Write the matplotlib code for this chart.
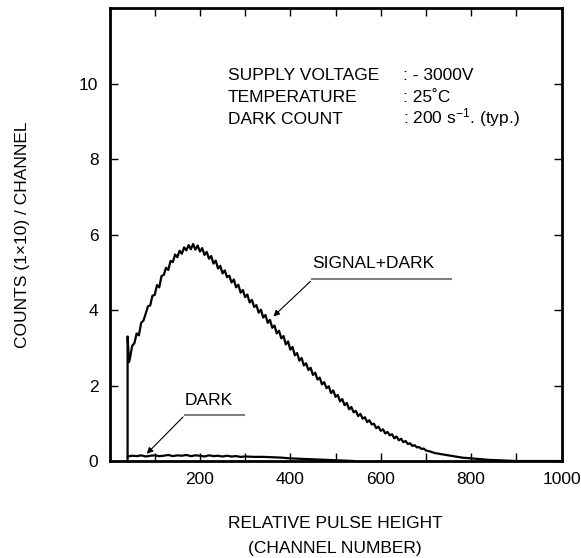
import matplotlib
matplotlib.use('Agg')
import matplotlib.pyplot as plt
from matplotlib.ticker import MultipleLocator

plt.rcParams['font.family'] = 'Liberation Sans'
plt.rcParams['font.size'] = 12.5
plt.rcParams['mathtext.fontset'] = 'custom'
plt.rcParams['mathtext.rm'] = 'Liberation Sans'

# signal + dark spectrum
sig_ch = [40, 40, 43, 45, 50, 55, 60, 65, 70, 75, 80, 85, 90, 95, 100, 105, 110,
          115, 120, 125, 130, 135, 140, 145, 150, 155, 160, 165, 170, 175, 180,
          185, 190, 195, 200, 205, 210, 215, 220, 225, 230, 235, 240, 245, 250,
          255, 260, 265, 270, 275, 280, 285, 290, 295, 300, 305, 310, 315, 320,
          325, 330, 335, 340, 345, 350, 355, 360, 365, 370, 375, 380, 385, 390,
          395, 400, 405, 410, 415, 420, 425, 430, 435, 440, 445, 450, 455, 460,
          465, 470, 475, 480, 485, 490, 495, 500, 505, 510, 515, 520, 525, 530,
          535, 540, 545, 550, 555, 560, 565, 570, 575, 580, 585, 590, 595, 600,
          605, 610, 615, 620, 625, 630, 635, 640, 645, 650, 655, 660, 665, 670,
          675, 680, 685, 690, 695, 700, 710, 720, 730, 740, 750, 760, 770, 780,
          790, 800, 820, 840, 860, 880, 900, 1000]
sig_val = [0.0, 3.3, 2.62, 2.70, 3.05, 3.12, 3.38, 3.33, 3.66, 3.72, 3.90, 4.10,
           4.12, 4.38, 4.40, 4.66, 4.60, 4.90, 4.93, 5.12, 5.06, 5.30, 5.27, 5.47,
           5.40, 5.57, 5.49, 5.66, 5.58, 5.72, 5.61, 5.75, 5.60, 5.71, 5.55, 5.64,
           5.46, 5.54, 5.36, 5.43, 5.23, 5.31, 5.10, 5.17, 4.97, 5.05, 4.87, 4.91,
           4.73, 4.81, 4.60, 4.67, 4.46, 4.53, 4.34, 4.41, 4.20, 4.27, 4.08, 4.13,
           3.93, 4.01, 3.80, 3.87, 3.66, 3.74, 3.53, 3.59, 3.38, 3.45, 3.25, 3.31,
           3.09, 3.17, 2.95, 3.02, 2.80, 2.86, 2.66, 2.73, 2.53, 2.59, 2.41, 2.47,
           2.28, 2.34, 2.16, 2.21, 2.03, 2.09, 1.93, 1.98, 1.80, 1.87, 1.70, 1.75,
           1.58, 1.64, 1.48, 1.54, 1.37, 1.43, 1.29, 1.33, 1.19, 1.25, 1.12, 1.16,
           1.03, 1.08, 0.97, 0.99, 0.87, 0.91, 0.80, 0.84, 0.73, 0.77, 0.68, 0.71,
           0.60, 0.65, 0.55, 0.59, 0.50, 0.53, 0.45, 0.47, 0.40, 0.42, 0.36, 0.37,
           0.32, 0.33, 0.28, 0.25, 0.21, 0.19, 0.17, 0.15, 0.13, 0.11, 0.09, 0.08,
           0.07, 0.05, 0.03, 0.02, 0.01, 0.0, 0.0]

# dark spectrum
dark_ch = [40, 50, 60, 70, 80, 90, 100, 110, 120, 130, 140, 150, 160, 170, 180,
           190, 200, 210, 220, 230, 240, 250, 260, 270, 280, 290, 300, 320, 340,
           360, 380, 400, 420, 440, 460, 480, 500, 520, 540]
dark_val = [0.12, 0.14, 0.13, 0.15, 0.12, 0.14, 0.15, 0.13, 0.14, 0.16, 0.13,
            0.15, 0.14, 0.16, 0.13, 0.15, 0.14, 0.12, 0.15, 0.13, 0.14, 0.12,
            0.14, 0.12, 0.13, 0.11, 0.12, 0.11, 0.11, 0.10, 0.09, 0.07, 0.06,
            0.05, 0.04, 0.03, 0.02, 0.01, 0.0]

info_keys = ['SUPPLY VOLTAGE', 'TEMPERATURE', 'DARK COUNT']
info_vals = [': - 3000V', ': 25\u02daC', r': 200 s$\mathregular{^{-1}}$. (typ.)']

fig = plt.figure(figsize=(5.81, 5.58), dpi=100)
ax = fig.add_axes([0.1885, 0.1738, 0.778, 0.8118])

ax.plot(sig_ch, sig_val, color='black', lw=1.6)
ax.plot(dark_ch, dark_val, color='black', lw=1.6)

ax.set_xlim(0, 1000)
ax.set_ylim(0, 12)
ax.set_xticks([200, 400, 600, 800, 1000])
ax.xaxis.set_minor_locator(MultipleLocator(100))
ax.set_yticks([0, 2, 4, 6, 8, 10])
ax.tick_params(which='both', direction='in', top=True, right=True, length=6, width=1, pad=8)
for s in ax.spines.values():
    s.set_linewidth(2)

# info block
for i, (k, v) in enumerate(zip(info_keys, info_vals)):
    y = 10.21 - i * 0.58
    ax.text(262, y, k, va='center', ha='left')
    ax.text(649, y + (0.06 if i == 2 else 0), v, va='center', ha='left')

# SIGNAL+DARK label
ax.text(449, 5.24, 'SIGNAL+DARK', va='center', ha='left')
ax.plot([449, 755], [4.81, 4.81], color='#808080', lw=1.5)
ax.annotate('', xy=(358, 3.78), xytext=(449, 4.81),
            arrowprops=dict(arrowstyle='-|>', lw=0.8, color='black', mutation_scale=9))

# DARK label
ax.text(167, 1.61, 'DARK', va='center', ha='left')
ax.plot([167, 297], [1.22, 1.22], color='#808080', lw=1.5)
ax.annotate('', xy=(78, 0.14), xytext=(167, 1.22),
            arrowprops=dict(arrowstyle='-|>', lw=0.8, color='black', mutation_scale=9))

fig.text(0.577, (558 - 523) / 558, 'RELATIVE PULSE HEIGHT', ha='center', va='center')
fig.text(0.577, (558 - 548) / 558, '(CHANNEL NUMBER)', ha='center', va='center')
fig.text(0.038, 0.58, 'COUNTS (1\u00d710) / CHANNEL', rotation=90, ha='center', va='center')

fig.savefig('out.png', dpi=100)
